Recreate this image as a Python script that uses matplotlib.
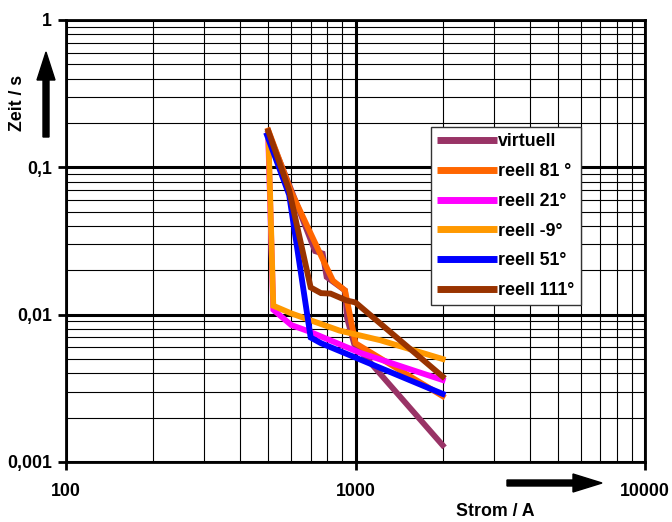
import numpy as np
import matplotlib.pyplot as plt
import matplotlib.ticker as mticker
from matplotlib.patches import FancyArrow
from matplotlib.transforms import IdentityTransform

plt.rcParams['font.family'] = ['Liberation Sans', 'DejaVu Sans']
plt.rcParams['font.weight'] = 'bold'
plt.rcParams['font.size'] = 12.8

# Daten (Strom in A, Zeit in s)
i_virt = [500, 600, 725, 770, 795, 920, 935, 990, 2000]
t_virt = [0.172, 0.07, 0.027, 0.026, 0.018, 0.0146, 0.0095, 0.0063, 0.0013]

i_81 = [500, 600, 785, 836, 920, 1000, 2000]
t_81 = [0.178, 0.068, 0.022, 0.017, 0.0146, 0.0064, 0.0028]

i_21 = [500, 520, 600, 690, 1040, 2000]
t_21 = [0.15, 0.0108, 0.0085, 0.0077, 0.0055, 0.0036]

i_m9 = [500, 520, 600, 880, 1220, 2000]
t_m9 = [0.17, 0.0115, 0.0102, 0.0078, 0.0067, 0.005]

i_51 = [495, 590, 700, 760, 2000]
t_51 = [0.165, 0.065, 0.007, 0.0064, 0.0029]

i_111 = [500, 590, 700, 760, 820, 930, 1000, 2000]
t_111 = [0.176, 0.07, 0.0153, 0.014, 0.0139, 0.0125, 0.0121, 0.0038]

serien = [
    ('virtuell', i_virt, t_virt, '#993366'),
    ('reell 81 °', i_81, t_81, '#FF6600'),
    ('reell 21°', i_21, t_21, '#FF00FF'),
    ('reell -9°', i_m9, t_m9, '#FF9900'),
    ('reell 51°', i_51, t_51, '#0000FF'),
    ('reell 111°', i_111, t_111, '#993300'),
]

fig = plt.figure(figsize=(6.72, 5.22), dpi=100)
ax = fig.add_axes([66 / 672, 1 - 462 / 522, 579 / 672, 442 / 522])

for name, x, y, c in serien:
    ax.plot(x, y, color=c, lw=4.2, label=name, solid_joinstyle='miter')

ax.set_xscale('log')
ax.set_yscale('log')
ax.set_xlim(100, 10000)
ax.set_ylim(0.001, 1)

ax.xaxis.set_major_locator(mticker.FixedLocator([100, 1000, 10000]))
ax.xaxis.set_major_formatter(mticker.FixedFormatter(['100', '1000', '10000']))
ax.yaxis.set_major_locator(mticker.FixedLocator([0.001, 0.01, 0.1, 1]))
ax.yaxis.set_major_formatter(mticker.FixedFormatter(['0,001', '0,01', '0,1', '1']))
ax.xaxis.set_minor_locator(mticker.LogLocator(base=10, subs=np.arange(2, 10)))
ax.yaxis.set_minor_locator(mticker.LogLocator(base=10, subs=np.arange(2, 10)))
ax.xaxis.set_minor_formatter(mticker.NullFormatter())
ax.yaxis.set_minor_formatter(mticker.NullFormatter())

ax.grid(True, which='major', color='black', lw=2.2)
ax.grid(True, which='minor', color='black', lw=0.8)
ax.set_axisbelow(True)
ax.tick_params(which='major', direction='out', length=6, width=2, pad=4)
ax.tick_params(axis='x', which='major', pad=9)
ax.tick_params(which='minor', length=0)
for s in ax.spines.values():
    s.set_linewidth(2)

leg = ax.legend(loc='upper left', bbox_to_anchor=(0.630, 0.758), borderaxespad=0,
                fancybox=False, edgecolor='#333333', framealpha=1,
                handlelength=3.4, handletextpad=0.05, labelspacing=0.72,
                borderpad=0.35, fontsize=12.8)
leg.get_frame().set_linewidth(1)
for h in leg.get_lines():
    h.set_linewidth(5)
    h.set_solid_capstyle('butt')

fig.text(18 / 672, 419 / 522, 'Zeit / s', rotation=90, ha='center', va='center')
fig.text(495 / 672, 10.5 / 522, 'Strom / A', ha='center', va='center')

fig.add_artist(FancyArrow(46, 385, 0, 85, width=6, head_width=18, head_length=28,
                          length_includes_head=True, color='black',
                          transform=IdentityTransform()))
fig.add_artist(FancyArrow(507, 39, 95, 0, width=6, head_width=18, head_length=29,
                          length_includes_head=True, color='black',
                          transform=IdentityTransform()))

fig.savefig('out.png', dpi=100)
